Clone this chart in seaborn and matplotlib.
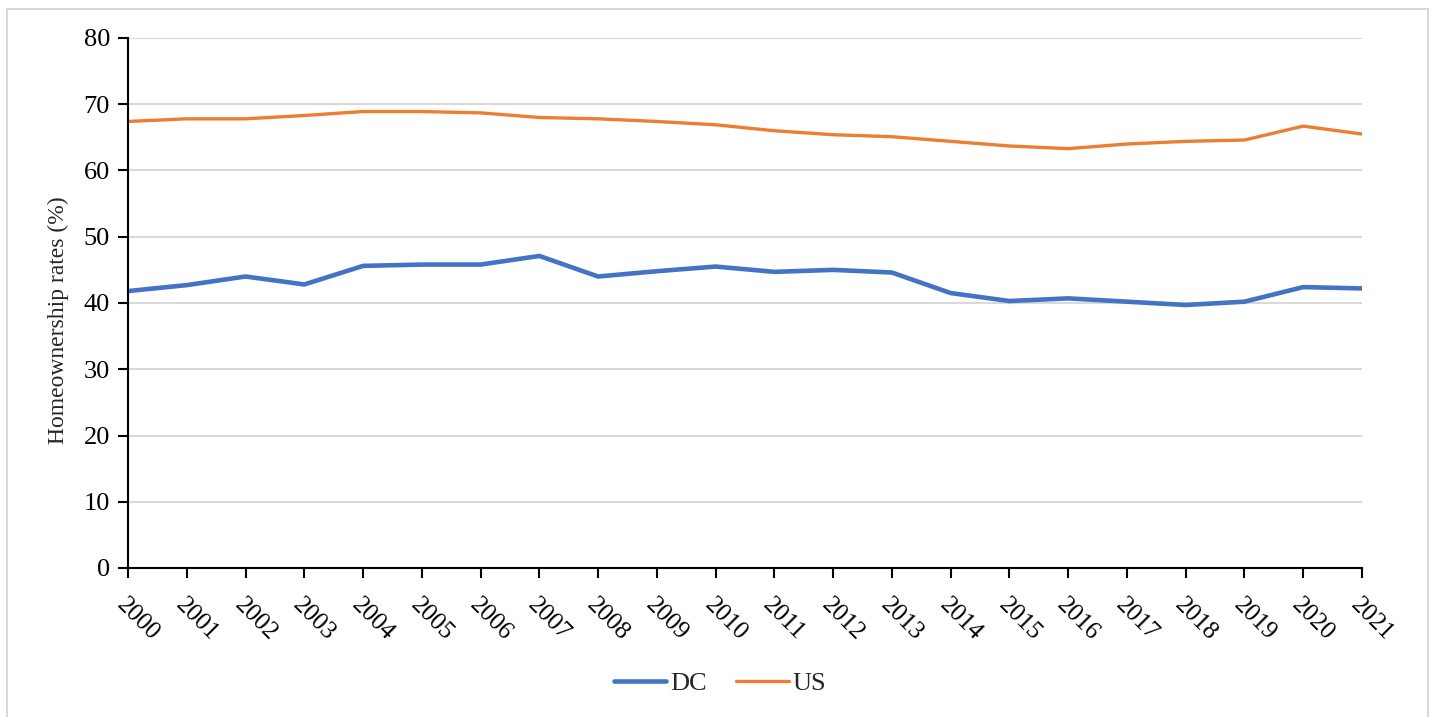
import matplotlib
matplotlib.use("Agg")
import matplotlib.pyplot as plt
import seaborn as sns
import pandas as pd
from matplotlib.patches import Rectangle

years = list(range(2000, 2022))
dc_rates = [41.8, 42.7, 44.0, 42.8, 45.6, 45.8, 45.8, 47.1, 44.0, 44.8, 45.5,
            44.7, 45.0, 44.6, 41.5, 40.3, 40.7, 40.2, 39.7, 40.2, 42.4, 42.2]
us_rates = [67.4, 67.8, 67.8, 68.3, 68.9, 68.9, 68.7, 68.0, 67.8, 67.4, 66.9,
            66.0, 65.4, 65.1, 64.4, 63.7, 63.3, 64.0, 64.4, 64.6, 66.7, 65.5]
series_names = ["DC", "US"]
series_colors = ["#4472C4", "#ED7D31"]
y_ticks = [0, 10, 20, 30, 40, 50, 60, 70, 80]

df = pd.DataFrame({
    "Year": years * 2,
    "Rate": dc_rates + us_rates,
    "Series": ["DC"] * len(years) + ["US"] * len(years),
})

sns.set_theme(style="white")
plt.rcParams["font.family"] = ["Liberation Serif", "DejaVu Serif"]

fig = plt.figure(figsize=(14.39, 7.17), dpi=100)
ax = fig.add_axes([128 / 1439, 1 - 568 / 717, (1362 - 128) / 1439, (568 - 38) / 717])

sns.lineplot(data=df, x="Year", y="Rate", hue="Series", hue_order=series_names,
             palette=series_colors, ax=ax, legend=False)
ax.lines[0].set_linewidth(3.3)
ax.lines[1].set_linewidth(2.4)
for ln in ax.lines:
    ln.set_solid_capstyle("round")

ax.set_xlim(years[0], years[-1])
ax.set_ylim(0, 80)
ax.set_yticks(y_ticks)
ax.set_xticks(years)
ax.set_xticklabels([str(y) for y in years], rotation=-45, ha="left",
                   va="top", rotation_mode="anchor", fontsize=18)
ax.tick_params(axis="y", labelsize=19, length=7, width=1.5, direction="out",
               left=True, pad=6, colors="black")
ax.tick_params(axis="x", length=7, width=1.5, direction="out", bottom=True,
               pad=12, colors="black")
ax.yaxis.grid(True, color="#d9d9d9", linewidth=1.5)
ax.xaxis.grid(False)
ax.set_axisbelow(True)

for side in ["top", "right"]:
    ax.spines[side].set_visible(False)
for side in ["left", "bottom"]:
    ax.spines[side].set_color("black")
    ax.spines[side].set_linewidth(1.5)

ax.set_xlabel("")
ax.set_ylabel("Homeownership rates (%)", fontsize=17)
ax.yaxis.set_label_coords(-0.048, 0.468)

handles = [plt.Line2D([0], [0], color=series_colors[0], lw=3.3, solid_capstyle="round"),
           plt.Line2D([0], [0], color=series_colors[1], lw=2.4, solid_capstyle="round")]
fig.legend(handles, series_names, loc="center", bbox_to_anchor=(720 / 1439, 1 - 683 / 717),
           ncol=2, frameon=False, fontsize=19, handlelength=2.0, handletextpad=0.15,
           columnspacing=1.1)

# light frame around the chart area
fig.patches.append(Rectangle((7 / 1439, -0.02), (1428 - 7) / 1439, 1.02 - 9 / 717,
                             transform=fig.transFigure, fill=False,
                             edgecolor="#d9d9d9", linewidth=1.5))

fig.savefig("out.png", dpi=100, facecolor="white")
